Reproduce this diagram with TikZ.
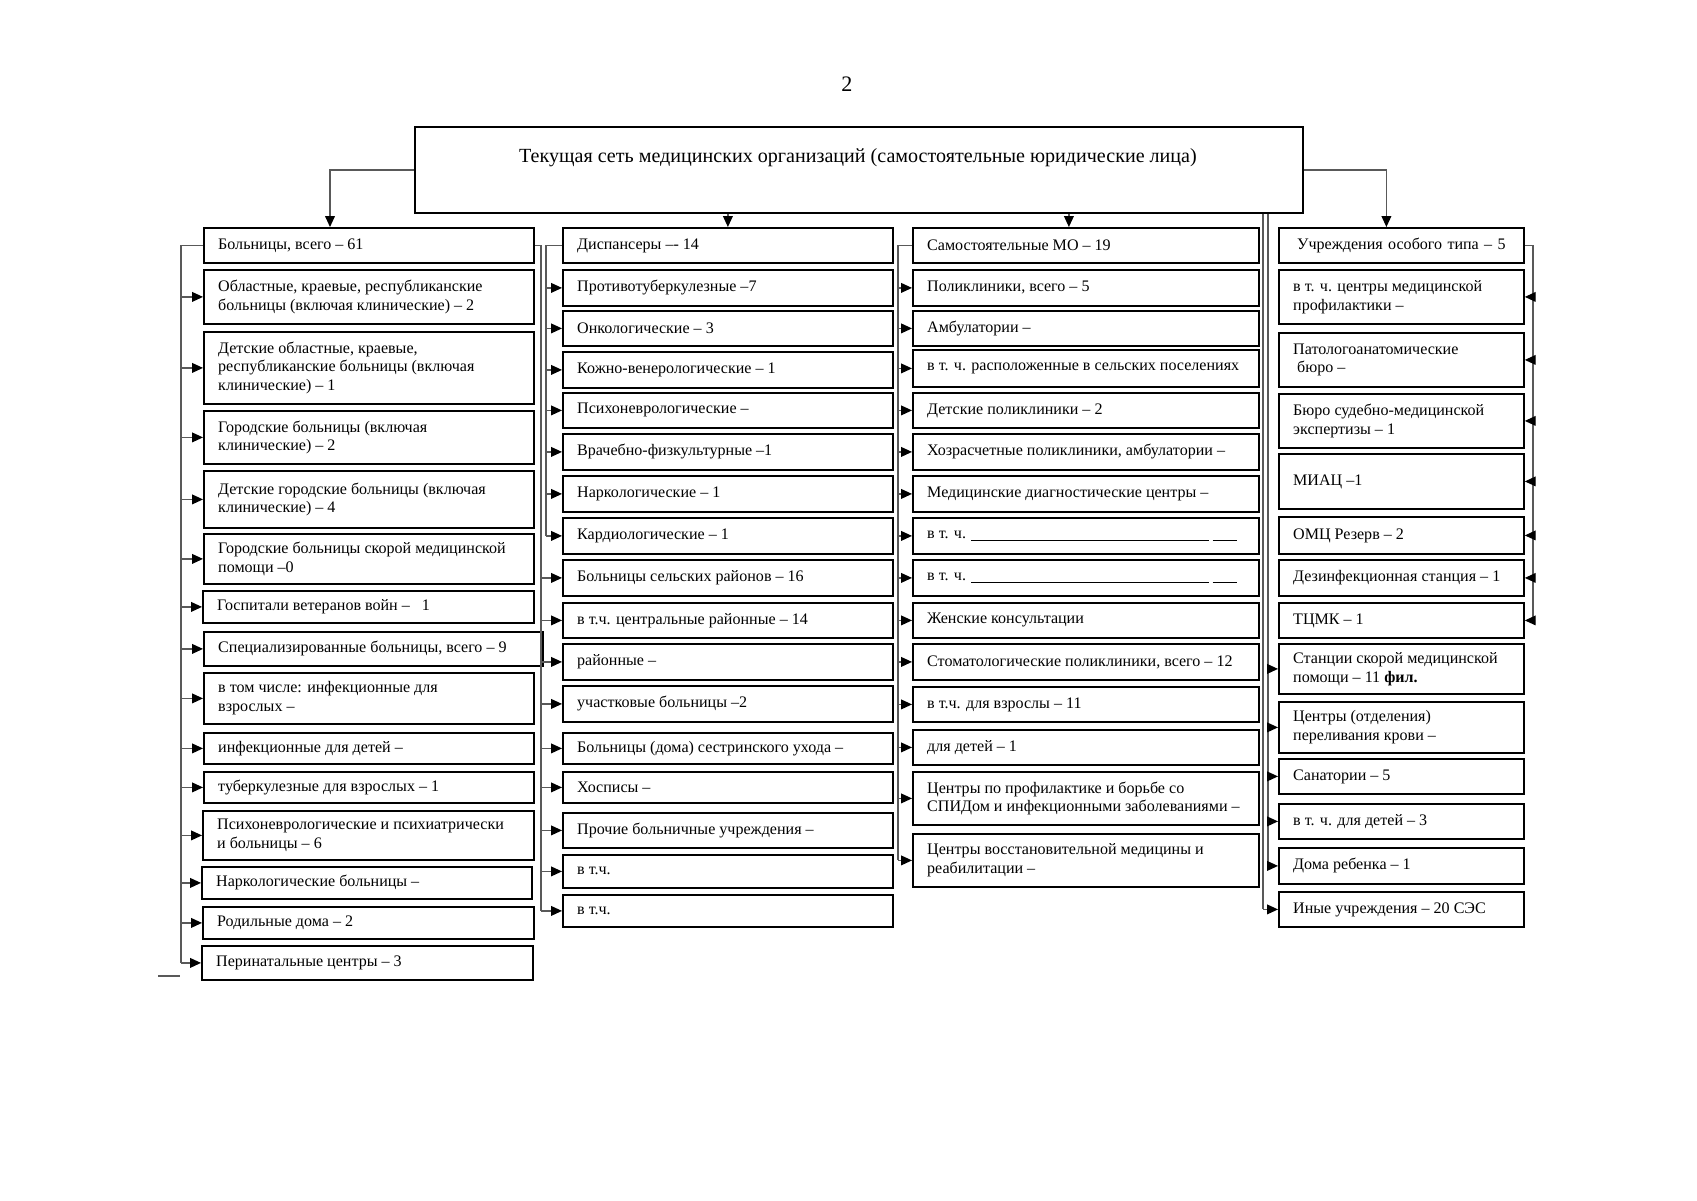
\documentclass[tikz,border=0pt]{standalone}
\usepackage{fontspec}
\setmainfont{Liberation Serif}
\usetikzlibrary{arrows.meta,calc}

\begin{document}
\begin{tikzpicture}[x=0.175mm, y=-0.175mm,
  box/.style={draw, line width=0.9pt, anchor=north west, align=flush left,
    inner xsep=2.5mm, inner ysep=0pt, font=\fontsize{8}{9.4}\selectfont},
  boxw/.style={minimum width=#1*0.175mm, text width=#1*0.175mm-5mm},
  boxh/.style={minimum height=#1*0.175mm},
  bus/.style={draw=black!65, line width=0.6pt},
  arr/.style={bus, -{Triangle[length=1.9mm,width=1.7mm,color=black]}}]

\useasboundingbox (0,0) rectangle (1697,1200);

% Page number and head box
\node[font=\fontsize{11}{13}\selectfont] (pnum) at (847,84) {2};
\node[box, boxw=888, boxh=86] (top) at (414,126) {};
\node[font=\fontsize{10}{12}\selectfont] (title) at (858,158)
  {Текущая сеть медицинских организаций (самостоятельные юридические лица)};

% Column 1: hospitals
\node[box, boxw=330, boxh=35] (b0) at (203,227) {Больницы, всего – 61};
\node[box, boxw=330, boxh=54] (b1) at (203,269) {Областные, краевые, республиканские\\больницы (включая клинические) – 2};
\node[box, boxw=330, boxh=72] (b2) at (203,331) {Детские областные, краевые,\\республиканские больницы (включая\\клинические) – 1};
\node[box, boxw=330, boxh=53] (b3) at (203,410) {Городские больницы (включая\\клинические) – 2};
\node[box, boxw=330, boxh=57] (b4) at (203,470) {Детские городские больницы (включая\\клинические) – 4};
\node[box, boxw=330, boxh=50] (b5) at (203,533) {Городские больницы скорой медицинской\\помощи –0};
\node[box, boxw=331, boxh=32] (b6) at (202,590) {Госпитали ветеранов войн –~~~1};
\node[box, boxw=339, boxh=34] (b7) at (203,631) {Специализированные больницы, всего – 9};
\node[box, boxw=330, boxh=51] (b8) at (203,672) {в том числе: инфекционные для\\взрослых –};
\node[box, boxw=330, boxh=31] (b9) at (203,732) {инфекционные для детей –};
\node[box, boxw=330, boxh=31] (b10) at (203,771) {туберкулезные для взрослых – 1};
\node[box, boxw=331, boxh=49] (b11) at (202,810) {Психоневрологические и психиатрически\\и больницы – 6};
\node[box, boxw=330, boxh=32] (b12) at (201,866) {Наркологические больницы –};
\node[box, boxw=331, boxh=32] (b13) at (202,906) {Родильные дома – 2};
\node[box, boxw=331, boxh=34] (b14) at (201,945) {Перинатальные центры – 3};

% Column 2: dispensaries and rural hospitals
\node[box, boxw=330, boxh=35] (d0) at (562,227) {Диспансеры –- 14};
\node[box, boxw=330, boxh=36] (d1) at (562,269) {Противотуберкулезные –7};
\node[box, boxw=330, boxh=35] (d2) at (562,310) {Онкологические – 3};
\node[box, boxw=330, boxh=36] (d3) at (562,351) {Кожно-венерологические – 1};
\node[box, boxw=330, boxh=35] (d4) at (562,392) {Психоневрологические –};
\node[box, boxw=330, boxh=36] (d5) at (562,433) {Врачебно-физкультурные –1};
\node[box, boxw=330, boxh=36] (d6) at (562,475) {Наркологические – 1};
\node[box, boxw=330, boxh=36] (d7) at (562,517) {Кардиологические – 1};
\node[box, boxw=330, boxh=36] (d8) at (562,559) {Больницы сельских районов – 16};
\node[box, boxw=330, boxh=35] (d9) at (562,602) {в т.ч. центральные районные – 14};
\node[box, boxw=330, boxh=36] (d10) at (562,643) {районные –};
\node[box, boxw=330, boxh=36] (d11) at (562,685) {участковые больницы –2};
\node[box, boxw=330, boxh=31] (d12) at (562,732) {Больницы (дома) сестринского ухода –};
\node[box, boxw=330, boxh=31] (d13) at (562,771) {Хосписы –};
\node[box, boxw=330, boxh=35] (d14) at (562,812) {Прочие больничные учреждения –};
\node[box, boxw=330, boxh=33] (d15) at (562,854) {в т.ч.};
\node[box, boxw=330, boxh=32] (d16) at (562,894) {в т.ч.};

% Column 3: independent organizations
\node[box, boxw=346, boxh=35] (m0) at (912,227) {Самостоятельные МО – 19};
\node[box, boxw=346, boxh=36] (m1) at (912,269) {Поликлиники, всего – 5};
\node[box, boxw=346, boxh=35] (m2) at (912,310) {Амбулатории –};
\node[box, boxw=346, boxh=37] (m3) at (912,349) {в т. ч. расположенные в сельских поселениях};
\node[box, boxw=346, boxh=35] (m4) at (912,392) {Детские поликлиники – 2};
\node[box, boxw=346, boxh=36] (m5) at (912,433) {Хозрасчетные поликлиники, амбулатории –};
\node[box, boxw=346, boxh=36] (m6) at (912,475) {Медицинские диагностические центры –};
\node[box, boxw=346, boxh=36] (m7) at (912,517) {в т. ч. \rule[-0.4ex]{41.5mm}{0.4pt}\hspace{0.7mm}\rule[-0.4ex]{4.2mm}{0.4pt}};
\node[box, boxw=346, boxh=36] (m8) at (912,559) {в т. ч. \rule[-0.4ex]{41.5mm}{0.4pt}\hspace{0.7mm}\rule[-0.4ex]{4.2mm}{0.4pt}};
\node[box, boxw=346, boxh=35] (m9) at (912,602) {Женские консультации};
\node[box, boxw=346, boxh=36] (m10) at (912,643) {Стоматологические поликлиники, всего – 12};
\node[box, boxw=346, boxh=35] (m11) at (912,686) {в т.ч. для взрослы – 11};
\node[box, boxw=346, boxh=35] (m12) at (912,729) {для детей – 1};
\node[box, boxw=346, boxh=53] (m13) at (912,771) {Центры по профилактике и борьбе со\\СПИДом и инфекционными заболеваниями –};
\node[box, boxw=346, boxh=53] (m14) at (912,833) {Центры восстановительной медицины и\\реабилитации –};

% Column 4: special institutions
\node[box, boxw=245, boxh=35, align=center] (u0) at (1278,227) {Учреждения особого типа – 5};
\node[box, boxw=245, boxh=54] (u1) at (1278,269) {в т. ч. центры медицинской\\профилактики –};
\node[box, boxw=245, boxh=54] (u2) at (1278,332) {Патологоанатомические\\\hspace*{2pt}бюро –};
\node[box, boxw=245, boxh=54] (u3) at (1278,393) {Бюро судебно-медицинской\\экспертизы – 1};
\node[box, boxw=245, boxh=55] (u4) at (1278,453) {МИАЦ –1};
\node[box, boxw=245, boxh=37] (u5) at (1278,516) {ОМЦ Резерв – 2};
\node[box, boxw=245, boxh=36] (u6) at (1278,559) {Дезинфекционная станция – 1};
\node[box, boxw=245, boxh=35] (u7) at (1278,602) {ТЦМК – 1};
\node[box, boxw=245, boxh=50] (u8) at (1278,643) {Станции скорой медицинской\\помощи – 11 \textbf{фил.}};
\node[box, boxw=245, boxh=51] (u9) at (1278,701) {Центры (отделения)\\переливания крови –};
\node[box, boxw=245, boxh=35] (u10) at (1278,758) {Санатории – 5};
\node[box, boxw=245, boxh=35] (u11) at (1278,803) {в т. ч. для детей – 3};
\node[box, boxw=245, boxh=36] (u12) at (1278,847) {Дома ребенка – 1};
\node[box, boxw=245, boxh=35] (u13) at (1278,891) {Иные учреждения – 20 СЭС};

% Bus positions
\coordinate (busA) at (181,0);
\coordinate (busB) at (541,0);
\coordinate (busC) at (546,0);
\coordinate (busD) at (898,0);
\coordinate (busE) at (1533,0);
\coordinate (busF) at (1263,0);
\coordinate (busG) at (1268,0);
\coordinate (mtop) at ($(m0.north)+(-17,0)$);
\coordinate (utop) at ($(u0.north)+(-15,0)$);

% From the head box
\draw[arr] (top.west) -| ($(b0.north west)+(127,0)$);
\draw[arr] (top.south -| d0.north) -- (d0.north);
\draw[arr] (mtop |- top.south) -- (mtop);
\draw[arr] (top.east) -| (utop);

% Hospitals, left bus
\draw[bus] (b0.west) -- (b0.west -| busA) -- (b14.west -| busA);
\foreach \i in {1,...,14}
  \draw[arr] (b\i.west -| busA) -- (b\i.west);

% Hospitals, right bus into column 2
\draw[bus] (b0.east) -- (b0.east -| busB) -- (d16.west -| busB);
\foreach \i in {8,...,16}
  \draw[arr] (d\i.west -| busB) -- (d\i.west);

% Dispensaries
\draw[bus] (d0.west) -- (d0.west -| busC) -- (d7.west -| busC);
\foreach \i in {1,...,7}
  \draw[arr] (d\i.west -| busC) -- (d\i.west);

% Independent organizations
\draw[bus] (m0.west) -- (m0.west -| busD) -- (m14.west -| busD);
\foreach \i in {1,...,14}
  \draw[arr] (m\i.west -| busD) -- (m\i.west);

% Special institutions, right bus
\draw[bus] (u0.east) -- (u0.east -| busE) -- (u7.east -| busE);
\foreach \i in {1,...,7}
  \draw[arr] (u\i.east -| busE) -- (u\i.east);

% Special institutions, lower part
\draw[bus] (top.south -| busF) -- (u13.west -| busF);
\draw[arr] (u13.west -| busF) -- (u13.west);
\draw[bus] (top.south -| busG) -- (u12.west -| busG);
\foreach \i in {8,...,12}
  \draw[arr] (u\i.west -| busG) -- (u\i.west);

% Stray stroke
\draw[bus] (158,976) -- (180,976);

\end{tikzpicture}
\end{document}
